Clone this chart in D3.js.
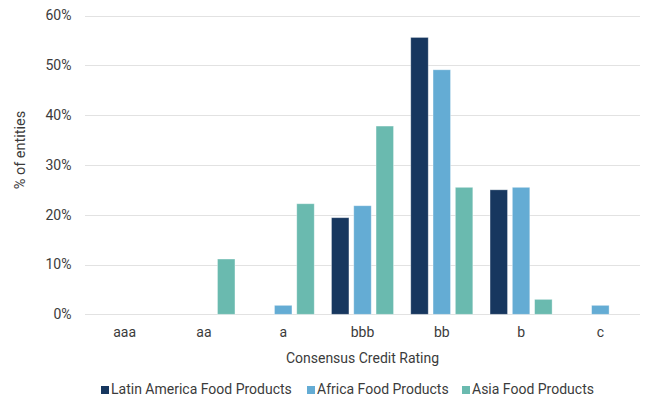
<!DOCTYPE html>
<html>
<head>
<meta charset="utf-8">
<script src="https://cdn.jsdelivr.net/npm/d3@7/dist/d3.min.js"></script>
<style>
  html, body { margin: 0; padding: 0; background: #fff; }
  svg { display: block; font-family: Roboto, "Noto Sans", sans-serif; }
</style>
</head>
<body>
<svg id="chart" width="648" height="401"></svg>
<script>
// Share of rated entities by consensus credit rating, per region
const ratings = ["aaa", "aa", "a", "bbb", "bb", "b", "c"];
const seriesNames = ["Latin America Food Products", "Africa Food Products", "Asia Food Products"];
const latinAmerica = [0, 0, 0, 19.4, 55.6, 25.0, 0];
const africa       = [0, 0, 1.8, 21.8, 49.1, 25.5, 1.8];
const asia         = [0, 11.1, 22.2, 37.8, 25.5, 3.0, 0];
const yTicks = [0, 10, 20, 30, 40, 50, 60];
const colors = ["#17375f", "#64acd4", "#6abaaf"];

const seriesValues = [latinAmerica, africa, asia];
const rows = ratings.map((r, i) => ({
  rating: r,
  values: seriesNames.map((name, s) => ({ name, s, value: seriesValues[s][i] }))
}));

const svg = d3.select("#chart");
const plotLeft = 85, plotRight = 640, plotTop = 15.5, plotBottom = 314.3;
const textColor = "#3b3b3b";

const x0 = d3.scaleBand().domain(ratings).range([plotLeft, plotRight]).paddingInner(0.217).paddingOuter(0.1085);
const x1 = d3.scaleBand().domain(seriesNames).range([0, x0.bandwidth()]).paddingInner(0.215);
const y = d3.scaleLinear().domain([0, 60]).range([plotBottom, plotTop]);
const color = d3.scaleOrdinal().domain(seriesNames).range(colors);

// horizontal gridlines
svg.append("g")
  .selectAll("line")
  .data(yTicks)
  .join("line")
  .attr("x1", plotLeft).attr("x2", plotRight)
  .attr("y1", d => Math.round(y(d)) + 0.5)
  .attr("y2", d => Math.round(y(d)) + 0.5)
  .attr("stroke", "#e2e2e2")
  .attr("stroke-width", 1.2);

// y axis labels
const yAxis = d3.axisLeft(y).tickValues(yTicks).tickFormat(d => d + "%").tickSize(0).tickPadding(0);
svg.append("g")
  .attr("transform", `translate(71.5,0)`)
  .call(yAxis)
  .call(g => g.select(".domain").remove())
  .call(g => g.selectAll("text")
    .attr("font-family", "Roboto, sans-serif")
    .attr("font-size", 14)
    .attr("fill", textColor));

// bars
svg.append("g")
  .selectAll("g")
  .data(rows)
  .join("g")
  .attr("transform", d => `translate(${x0(d.rating)},0)`)
  .selectAll("rect")
  .data(d => d.values.filter(v => v.value > 0))
  .join("rect")
  .attr("x", d => x1(d.name))
  .attr("width", x1.bandwidth())
  .attr("y", d => y(d.value))
  .attr("height", d => y(0) - y(d.value))
  .attr("fill", d => color(d.name))
  .attr("stroke", "rgba(255,255,255,0.45)")
  .attr("stroke-width", 0.8);

// x axis labels
const xAxis = d3.axisBottom(x0).tickSize(0).tickPadding(0);
svg.append("g")
  .attr("transform", `translate(0,327.5)`)
  .call(xAxis)
  .call(g => g.select(".domain").remove())
  .call(g => g.selectAll("text")
    .attr("font-family", "Roboto, sans-serif")
    .attr("font-size", 14)
    .attr("fill", textColor));

// axis titles
svg.append("text")
  .attr("x", (plotLeft + plotRight) / 2)
  .attr("y", 363)
  .attr("text-anchor", "middle")
  .attr("font-size", 14)
  .attr("fill", textColor)
  .text("Consensus Credit Rating");

svg.append("text")
  .attr("transform", "translate(25,150) rotate(-90)")
  .attr("text-anchor", "middle")
  .attr("font-size", 14.5)
  .attr("fill", textColor)
  .text("% of entities");

// legend
const legendX = [101, 307, 462];
const legend = svg.append("g")
  .selectAll("g")
  .data(seriesNames)
  .join("g")
  .attr("transform", (d, i) => `translate(${legendX[i]},394)`);
legend.append("rect")
  .attr("x", 0).attr("y", -8)
  .attr("width", 8).attr("height", 8)
  .attr("fill", d => color(d));
legend.append("text")
  .attr("x", 10)
  .attr("y", 0)
  .attr("font-size", 14)
  .attr("fill", textColor)
  .text(d => d);
</script>
</body>
</html>
